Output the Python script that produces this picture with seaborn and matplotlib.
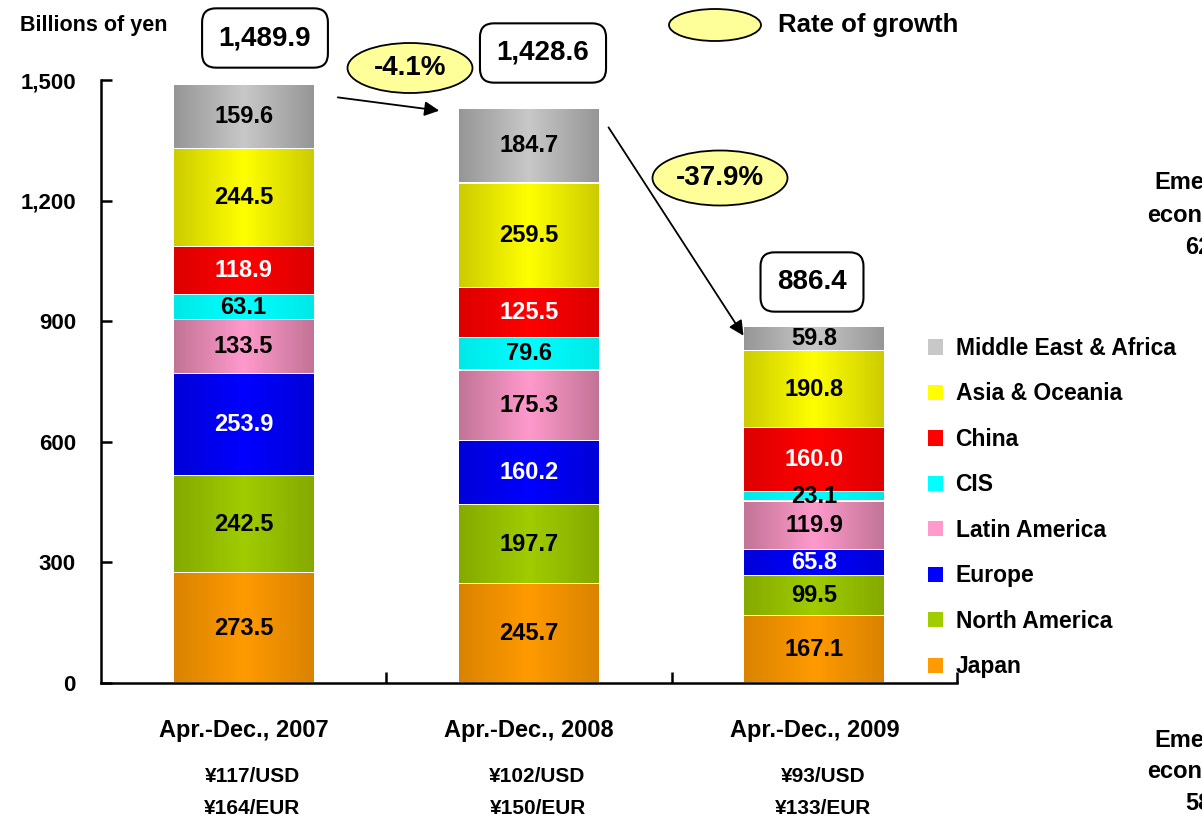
import numpy as np
import matplotlib
matplotlib.use("Agg")
import matplotlib.pyplot as plt
import matplotlib.transforms as mtransforms
from matplotlib.colors import LinearSegmentedColormap
from matplotlib.patches import Ellipse, Patch
import seaborn as sns

# ----------------------------- DATA -----------------------------
periods = ["Apr.-Dec., 2007", "Apr.-Dec., 2008", "Apr.-Dec., 2009"]
usd_rates = ["¥117/USD", "¥102/USD", "¥93/USD"]
eur_rates = ["¥164/EUR", "¥150/EUR", "¥133/EUR"]

regions = ["Japan", "North America", "Europe", "Latin America",
           "CIS", "China", "Asia & Oceania", "Middle East & Africa"]
japan = [273.5, 245.7, 167.1]
north_america = [242.5, 197.7, 99.5]
europe = [253.9, 160.2, 65.8]
latin_america = [133.5, 175.3, 119.9]
cis = [63.1, 79.6, 23.1]
china = [118.9, 125.5, 160.0]
asia_oceania = [244.5, 259.5, 190.8]
middle_east_africa = [159.6, 184.7, 59.8]
totals = ["1,489.9", "1,428.6", "886.4"]
growth = ["-4.1%", "-37.9%"]

series = [japan, north_america, europe, latin_america,
          cis, china, asia_oceania, middle_east_africa]
# (edge shade, centre shade, label colour)
styles = [("#DA8300", "#FF9A00", "black"),
          ("#84AA00", "#A0CC00", "black"),
          ("#0000D8", "#0000FF", "white"),
          ("#C27496", "#FF9ACC", "black"),
          ("#00E8E8", "#00FFFF", "black"),
          ("#DC0000", "#FF0000", "white"),
          ("#CCCC00", "#FFFF00", "black"),
          ("#969696", "#C8C8C8", "black")]

W, H = 1202, 819

sns.set_style("ticks")
plt.rcParams["font.family"] = ["Liberation Sans", "DejaVu Sans"]
plt.rcParams["font.weight"] = "bold"
for k in ["text.color", "axes.labelcolor", "xtick.color", "ytick.color", "axes.edgecolor"]:
    plt.rcParams[k] = "black"

fig = plt.figure(figsize=(W / 100, H / 100), dpi=100)
ax = fig.add_axes([101 / W, 1 - 683 / H, (957 - 101) / W, (683 - 80) / H])


def fig_xy(px, py):
    return px / W, 1 - py / H


# ----------------------------- STACKED BARS -----------------------------
bottom = np.zeros(len(periods))
grad = np.linspace(0, 1, 256).reshape(1, -1)
for vals, (edge, mid, txt) in zip(series, styles):
    n_before = len(ax.patches)
    sns.barplot(x=periods, y=vals, bottom=bottom.copy(), color=mid, width=0.49,
                edgecolor="white", linewidth=1.5, ax=ax)
    cmap = LinearSegmentedColormap.from_list("shade", [edge, mid, edge])
    for i, p in enumerate(ax.patches[n_before:]):
        x0, y0, w, h = p.get_x(), p.get_y(), p.get_width(), p.get_height()
        ax.imshow(grad, cmap=cmap, aspect="auto", zorder=p.get_zorder() + 0.1,
                  extent=[x0, x0 + w, y0 + 2.0, y0 + h - 2.0])
        ax.text(x0 + w / 2, y0 + h / 2, f"{vals[i]:.1f}", ha="center", va="center",
                fontsize=17, fontweight="bold", color=txt, zorder=5)
    bottom += np.array(vals)

ax.set_xlim(-0.5, 2.5)
ax.set_ylim(0, 1500)
ax.set_yticks(range(0, 1501, 300))
ax.set_yticklabels([f"{v:,}" for v in range(0, 1501, 300)], fontsize=16, fontweight="bold")
ax.set_xticks(range(3))
ax.set_xticklabels(periods, fontsize=17, fontweight="bold")
ax.set_xticks([0.5, 1.5, 2.5], minor=True)
ax.tick_params(axis="x", which="major", length=0, pad=26)
ax.tick_params(axis="x", which="minor", direction="in", length=8, width=1.8)
ax.tick_params(axis="y", direction="in", length=8, width=1.8, pad=18)
sns.despine(ax=ax)
for s in ["left", "bottom"]:
    ax.spines[s].set_linewidth(1.8)
ax.set_xlabel("")
ax.set_ylabel("")

# exchange rates under the categories
trans = mtransforms.blended_transform_factory(ax.transData, fig.transFigure)
for i in range(3):
    ax.text(i + 0.03, 1 - 776 / H, usd_rates[i], transform=trans, ha="center", va="center",
            fontsize=15, fontweight="bold", clip_on=False)
    ax.text(i + 0.03, 1 - 808 / H, eur_rates[i], transform=trans, ha="center", va="center",
            fontsize=15, fontweight="bold", clip_on=False)

fig.text(*fig_xy(20, 25), "Billions of yen", ha="left", va="center",
         fontsize=15.5, fontweight="bold")

# ----------------------------- TOTAL BOXES -----------------------------
box_pos = [(265, 38), (543, 53), (812, 282)]
for (bx, by), t in zip(box_pos, totals):
    fig.text(*fig_xy(bx, by), t, ha="center", va="center", fontsize=20, fontweight="bold",
             bbox=dict(boxstyle="round,pad=0.6,rounding_size=0.5", fc="white",
                       ec="black", lw=1.5), zorder=6)

# ----------------------------- GROWTH ELLIPSES + ARROWS -----------------------------
ell_pos = [(410, 68, 125, 50), (720, 178, 135, 55)]
for (ex, ey, ew, eh), g in zip(ell_pos, growth):
    fig.patches.append(Ellipse(fig_xy(ex, ey), ew / W, eh / H, transform=fig.transFigure,
                               fc="#FFFF99", ec="black", lw=1.3, zorder=6))
    fig.text(*fig_xy(ex, ey), g, ha="center", va="center", fontsize=20,
             fontweight="bold", zorder=7)

arrows = [((335, 97), (442, 111)), ((607, 125), (745, 338))]
for start, end in arrows:
    ax.annotate("", xy=fig_xy(*end), xytext=fig_xy(*start), xycoords="figure fraction",
                textcoords="figure fraction",
                arrowprops=dict(arrowstyle="-|>", color="black", lw=1.3, mutation_scale=22))

fig.patches.append(Ellipse(fig_xy(715, 25), 92 / W, 32 / H, transform=fig.transFigure,
                           fc="#FFFF99", ec="black", lw=1.3))
fig.text(*fig_xy(778, 25), "Rate of growth", ha="left", va="center",
         fontsize=18.5, fontweight="bold")

# ----------------------------- LEGEND -----------------------------
handles = [Patch(facecolor=st[1], edgecolor="none", label=r)
           for r, st in zip(regions, styles)][::-1]
leg = ax.legend(handles=handles, loc="upper left", bbox_to_anchor=fig_xy(928, 337),
                bbox_transform=fig.transFigure, frameon=False,
                prop={"size": 16.5, "weight": "bold"}, handlelength=0.65, handleheight=0.65,
                handletextpad=0.55, labelspacing=0.98, borderaxespad=0, borderpad=0)

# side notes (cut off by the page edge, as in the source slide)
fig.text(*fig_xy(1209, 215), "Emerging\neconomies\n62%", ha="center", va="center",
         fontsize=17, fontweight="bold", linespacing=1.5)
fig.text(*fig_xy(1209, 772), "Emerging\neconomies\n58%", ha="center", va="center",
         fontsize=17, fontweight="bold", linespacing=1.5)

fig.savefig("out.png", dpi=100)
